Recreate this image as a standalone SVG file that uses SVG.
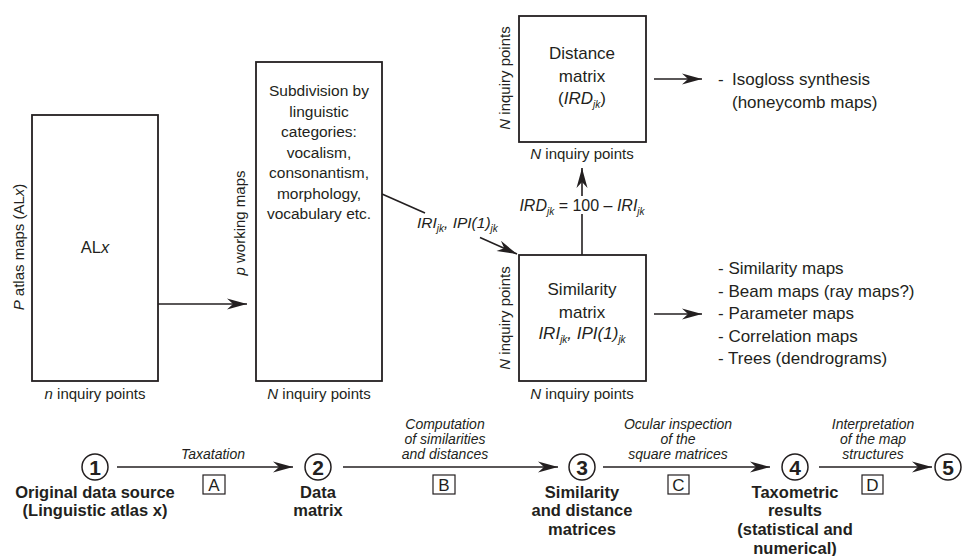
<svg xmlns="http://www.w3.org/2000/svg" width="962" height="556" viewBox="0 0 962 556">
<defs>
<marker id="arr" viewBox="-21 -6 22 12" refX="0" refY="0" markerWidth="22" markerHeight="12" markerUnits="userSpaceOnUse" orient="auto">
<path d="M0,0 L-20,-5.5 L-14,0 L-20,5.5 Z" fill="#231f20"/>
</marker>
<style>
text{font-family:"Liberation Sans",Arial,sans-serif;fill:#231f20}
.box{fill:#fff;stroke:#231f20;stroke-width:1.8}
.ln{stroke:#231f20;stroke-width:1.6;fill:none}
.ar{stroke:#231f20;stroke-width:1.6;fill:none;marker-end:url(#arr)}
.bt{font-size:17px;text-anchor:middle}
.sd{font-size:15.5px;text-anchor:middle}
.lst{font-size:17px}
.ax{font-size:15px;text-anchor:middle}
.st{font-size:14px;font-style:italic;text-anchor:middle}
.bl{font-size:16.5px;font-weight:bold;text-anchor:middle}
.lb{fill:#fff;stroke:#231f20;stroke-width:1.2}
.lt{font-size:17px;text-anchor:middle}
.cc{fill:#fff;stroke:#231f20;stroke-width:1.5}
.cd{font-size:21px;font-weight:bold;text-anchor:middle}
.i{font-style:italic}
.sub{font-size:10px;font-style:italic}
</style>
</defs>

<g id="connectors">
<line class="ar" x1="158" y1="304" x2="247" y2="304"/>
<line class="ln" x1="382" y1="194" x2="425" y2="213"/>
<line class="ar" x1="480" y1="237.6" x2="517" y2="254"/>
<line class="ln" x1="582" y1="255" x2="582" y2="214"/>
<line class="ar" x1="582" y1="196" x2="582" y2="168"/>
<line class="ar" x1="654" y1="79" x2="702" y2="79"/>
<line class="ar" x1="654" y1="314" x2="702" y2="314"/>
<line class="ar" x1="117" y1="467" x2="293" y2="467"/>
<line class="ar" x1="343" y1="467" x2="558" y2="467"/>
<line class="ar" x1="603" y1="467" x2="770" y2="467"/>
<line class="ar" x1="819" y1="467" x2="932" y2="467"/>
<text x="417" y="228" font-size="15.5" class="i">IRI<tspan class="sub" dy="4">jk</tspan><tspan dy="-4">, IPI(1)</tspan><tspan class="sub" dy="4">jk</tspan></text>
<text x="582" y="211" font-size="16" text-anchor="middle"><tspan class="i">IRD</tspan><tspan class="sub" dy="4">jk</tspan><tspan dy="-4"> = 100 – </tspan><tspan class="i">IRI</tspan><tspan class="sub" dy="4">jk</tspan></text>
<text class="st" x="213" y="459">Taxatation</text>
<text class="st" x="445" y="429">Computation</text>
<text class="st" x="445" y="444">of similarities</text>
<text class="st" x="445" y="459">and distances</text>
<text class="st" x="678" y="429">Ocular inspection</text>
<text class="st" x="678" y="444">of the</text>
<text class="st" x="678" y="459">square matrices</text>
<text class="st" x="873" y="429">Interpretation</text>
<text class="st" x="873" y="444">of the map</text>
<text class="st" x="873" y="459">structures</text>
<rect class="lb" x="203" y="475" width="22" height="19"/>
<text class="lt" x="214" y="491">A</text>
<rect class="lb" x="433" y="475" width="22" height="19"/>
<text class="lt" x="444" y="491">B</text>
<rect class="lb" x="668" y="475" width="21" height="19"/>
<text class="lt" x="678.5" y="491">C</text>
<rect class="lb" x="862" y="475" width="21" height="19"/>
<text class="lt" x="872.5" y="491">D</text>
</g>

<g id="atlas">
<rect class="box" x="32" y="115" width="126" height="266"/>
<text x="95" y="253" font-size="16.5" text-anchor="middle">AL<tspan class="i">x</tspan></text>
<text class="ax" transform="translate(24,247) rotate(-90)"><tspan class="i">P</tspan> atlas maps (AL<tspan class="i">x</tspan>)</text>
<text class="ax" x="95" y="399"><tspan class="i">n</tspan> inquiry points</text>
</g>

<g id="working-maps">
<rect class="box" x="256" y="62" width="126" height="319"/>
<text class="sd" x="319" y="96">Subdivision by</text>
<text class="sd" x="319" y="116.5">linguistic</text>
<text class="sd" x="319" y="137">categories:</text>
<text class="sd" x="319" y="157.5">vocalism,</text>
<text class="sd" x="319" y="178">consonantism,</text>
<text class="sd" x="319" y="198.5">morphology,</text>
<text class="sd" x="319" y="219">vocabulary etc.</text>
<text class="ax" transform="translate(245,223) rotate(-90)"><tspan class="i">p</tspan> working maps</text>
<text class="ax" x="319" y="399"><tspan class="i">N</tspan> inquiry points</text>
</g>

<g id="distance-matrix">
<rect class="box" x="519" y="16" width="127" height="126"/>
<text class="bt" x="582" y="59">Distance</text>
<text class="bt" x="582" y="81.5">matrix</text>
<text class="bt" x="582" y="104">(<tspan class="i">IRD</tspan><tspan class="sub" dy="4">jk</tspan><tspan dy="-4">)</tspan></text>
<text class="ax" transform="translate(510,78) rotate(-90)"><tspan class="i">N</tspan> inquiry points</text>
<text class="ax" x="582" y="159"><tspan class="i">N</tspan> inquiry points</text>
</g>

<g id="similarity-matrix">
<rect class="box" x="519" y="255" width="127" height="126"/>
<text class="bt" x="582" y="295">Similarity</text>
<text class="bt" x="582" y="318">matrix</text>
<text class="bt" x="582" y="339" font-size="16"><tspan class="i">IRI</tspan><tspan class="sub" dy="4">jk</tspan><tspan dy="-4" class="i">, IPI(1)</tspan><tspan class="sub" dy="4">jk</tspan></text>
<text class="ax" transform="translate(510,318) rotate(-90)"><tspan class="i">N</tspan> inquiry points</text>
<text class="ax" x="582" y="399"><tspan class="i">N</tspan> inquiry points</text>
</g>

<g id="distance-outputs">
<text class="lst" x="718" y="85">-<tspan x="732">Isogloss synthesis</tspan></text>
<text class="lst" x="732" y="108">(honeycomb maps)</text>
</g>

<g id="similarity-outputs">
<text class="lst" x="718" y="274">- Similarity maps</text>
<text class="lst" x="718" y="297">- Beam maps (ray maps?)</text>
<text class="lst" x="718" y="319">- Parameter maps</text>
<text class="lst" x="718" y="342">- Correlation maps</text>
<text class="lst" x="718" y="364">- Trees (dendrograms)</text>
</g>

<g id="step1">
<circle class="cc" cx="95" cy="467" r="13"/>
<text class="cd" x="95" y="474.5">1</text>
<text class="bl" x="95" y="498">Original data source</text>
<text class="bl" x="95" y="516">(Linguistic atlas x)</text>
</g>
<g id="step2">
<circle class="cc" cx="318" cy="467" r="13"/>
<text class="cd" x="318" y="474.5">2</text>
<text class="bl" x="318" y="498">Data</text>
<text class="bl" x="318" y="516">matrix</text>
</g>
<g id="step3">
<circle class="cc" cx="582" cy="467" r="13"/>
<text class="cd" x="582" y="474.5">3</text>
<text class="bl" x="582" y="498">Similarity</text>
<text class="bl" x="582" y="516">and distance</text>
<text class="bl" x="582" y="535">matrices</text>
</g>
<g id="step4">
<circle class="cc" cx="795" cy="467" r="13"/>
<text class="cd" x="795" y="474.5">4</text>
<text class="bl" x="795" y="498">Taxometric</text>
<text class="bl" x="795" y="516">results</text>
<text class="bl" x="795" y="535">(statistical and</text>
<text class="bl" x="795" y="554">numerical)</text>
</g>
<g id="step5">
<circle class="cc" cx="948" cy="467" r="13"/>
<text class="cd" x="948" y="474.5">5</text>
</g>
</svg>
